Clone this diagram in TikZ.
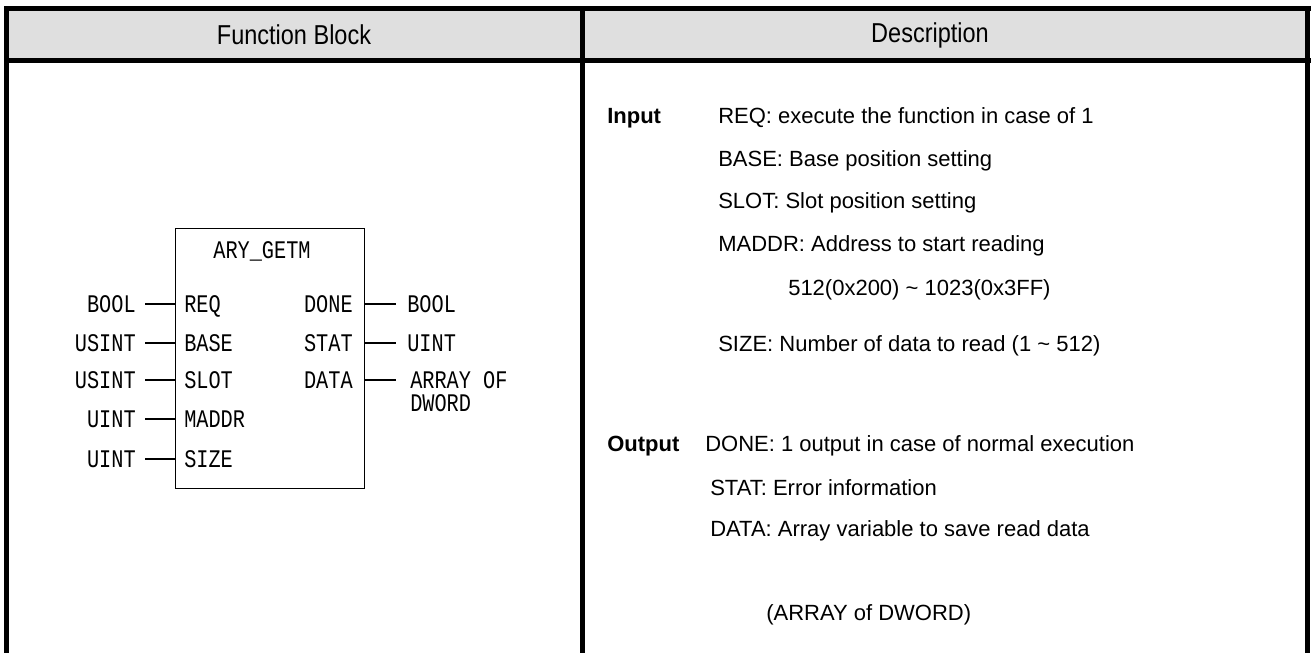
\documentclass[tikz,border=0pt]{standalone}
\usepackage{fontspec}
\setmainfont{Liberation Sans}
\newfontfamily\headfont[FakeStretch=0.86]{Liberation Sans}
\newfontfamily\pinfont[FakeStretch=0.8]{Liberation Mono}
\usepackage{tikz}
\usepackage{xcolor}
\definecolor{headgray}{RGB}{223, 223, 223}
\usetikzlibrary{positioning}

\tikzset{
    rule/.style={line width=3.75pt},
    headtxt/.style={inner sep=0pt, font=\headfont\fontsize{20.5}{24}\selectfont},
    desctxt/.style={anchor=base west, inner sep=0pt, font=\fontsize{16.5}{20}\selectfont},
    pintxt/.style={inner sep=0pt, font=\pinfont\fontsize{19}{23}\selectfont},
    pinline/.style={line width=1.5pt},
}

\begin{document}
\begin{tikzpicture}[x=0.75pt, y=-0.75pt]
    \useasboundingbox (0,0) rectangle (1311,653);

    % Table frame
    \fill[headgray] (6.5,8.5) rectangle (1307.5,60.5);
    \draw[rule] (4,8.5) -- (1311,8.5);
    \draw[rule] (4,60.5) -- (1311,60.5);
    \draw[rule] (6.5,6) -- (6.5,653);
    \draw[rule] (582,6) -- (582,653);
    \draw[rule] (1307.5,6) -- (1307.5,653);

    \node[headtxt] (hBlock) at (294,35) {Function Block};
    \node[headtxt] (hDesc) at (930,35) {Description};

    % Function block
    \node[draw, line width=1pt, inner sep=0pt, anchor=north west, minimum width=141.75pt, minimum height=195pt] (fb) at (175,228) {};
    \node[pintxt, anchor=base] (fbName) at (262,258.5) {ARY\_GETM};

    \node[pintxt, anchor=base west] (pReq) at (184,312.5) {REQ};
    \node[pintxt, anchor=base west] (pBase) at (184,351) {BASE};
    \node[pintxt, anchor=base west] (pSlot) at (184,388) {SLOT};
    \node[pintxt, anchor=base west] (pMaddr) at (184,427.5) {MADDR};
    \node[pintxt, anchor=base west] (pSize) at (184,467.5) {SIZE};

    \node[pintxt, anchor=base east] (pDone) at (353,312.5) {DONE};
    \node[pintxt, anchor=base east] (pStat) at (353,351) {STAT};
    \node[pintxt, anchor=base east] (pData) at (353,388) {DATA};

    % Input types
    \node[pintxt, anchor=base east] (tReq) at (136,312.5) {BOOL};
    \node[pintxt, anchor=base east] (tBase) at (136,351) {USINT};
    \node[pintxt, anchor=base east] (tSlot) at (136,388) {USINT};
    \node[pintxt, anchor=base east] (tMaddr) at (136,427.5) {UINT};
    \node[pintxt, anchor=base east] (tSize) at (136,467.5) {UINT};

    \draw[pinline] (tReq.east) ++(9,0) -- (fb.west |- tReq.east);
    \draw[pinline] (tBase.east) ++(9,0) -- (fb.west |- tBase.east);
    \draw[pinline] (tSlot.east) ++(9,0) -- (fb.west |- tSlot.east);
    \draw[pinline] (tMaddr.east) ++(9,0) -- (fb.west |- tMaddr.east);
    \draw[pinline] (tSize.east) ++(9,0) -- (fb.west |- tSize.east);

    % Output types
    \node[pintxt, anchor=base west] (tDone) at (407,312.5) {BOOL};
    \node[pintxt, anchor=base west] (tStat) at (407,351) {UINT};
    \node[pintxt, anchor=base west] (tData) at (410,388) {ARRAY OF};
    \node[pintxt, anchor=base west] (tDword) at (410,411.5) {DWORD};

    \draw[pinline] (fb.east |- tDone.west) -- ++(31,0);
    \draw[pinline] (fb.east |- tStat.west) -- ++(31,0);
    \draw[pinline] (fb.east |- tData.west) -- ++(31,0);

    % Description
    \node[desctxt] (dIn) at (607,123) {\textbf{Input}};
    \node[desctxt] (dReq) at (718,123) {REQ: execute the function in case of 1};
    \node[desctxt] (dBase) at (718,166) {BASE: Base position setting};
    \node[desctxt] (dSlot) at (718,208) {SLOT: Slot position setting};
    \node[desctxt] (dMaddr) at (718,251) {MADDR: Address to start reading};
    \node[desctxt] (dRange) at (788,295) {512(0x200) \textasciitilde{} 1023(0x3FF)};
    \node[desctxt] (dSize) at (718,351) {SIZE: Number of data to read (1 \textasciitilde{} 512)};

    \node[desctxt] (dOut) at (607,451) {\textbf{Output}};
    \node[desctxt] (dDone) at (705,451) {DONE: 1 output in case of normal execution};
    \node[desctxt] (dStat) at (710,495) {STAT: Error information};
    \node[desctxt] (dData) at (710,536) {DATA: Array variable to save read data};
    \node[desctxt] (dType) at (766,620) {(ARRAY of DWORD)};
\end{tikzpicture}
\end{document}
